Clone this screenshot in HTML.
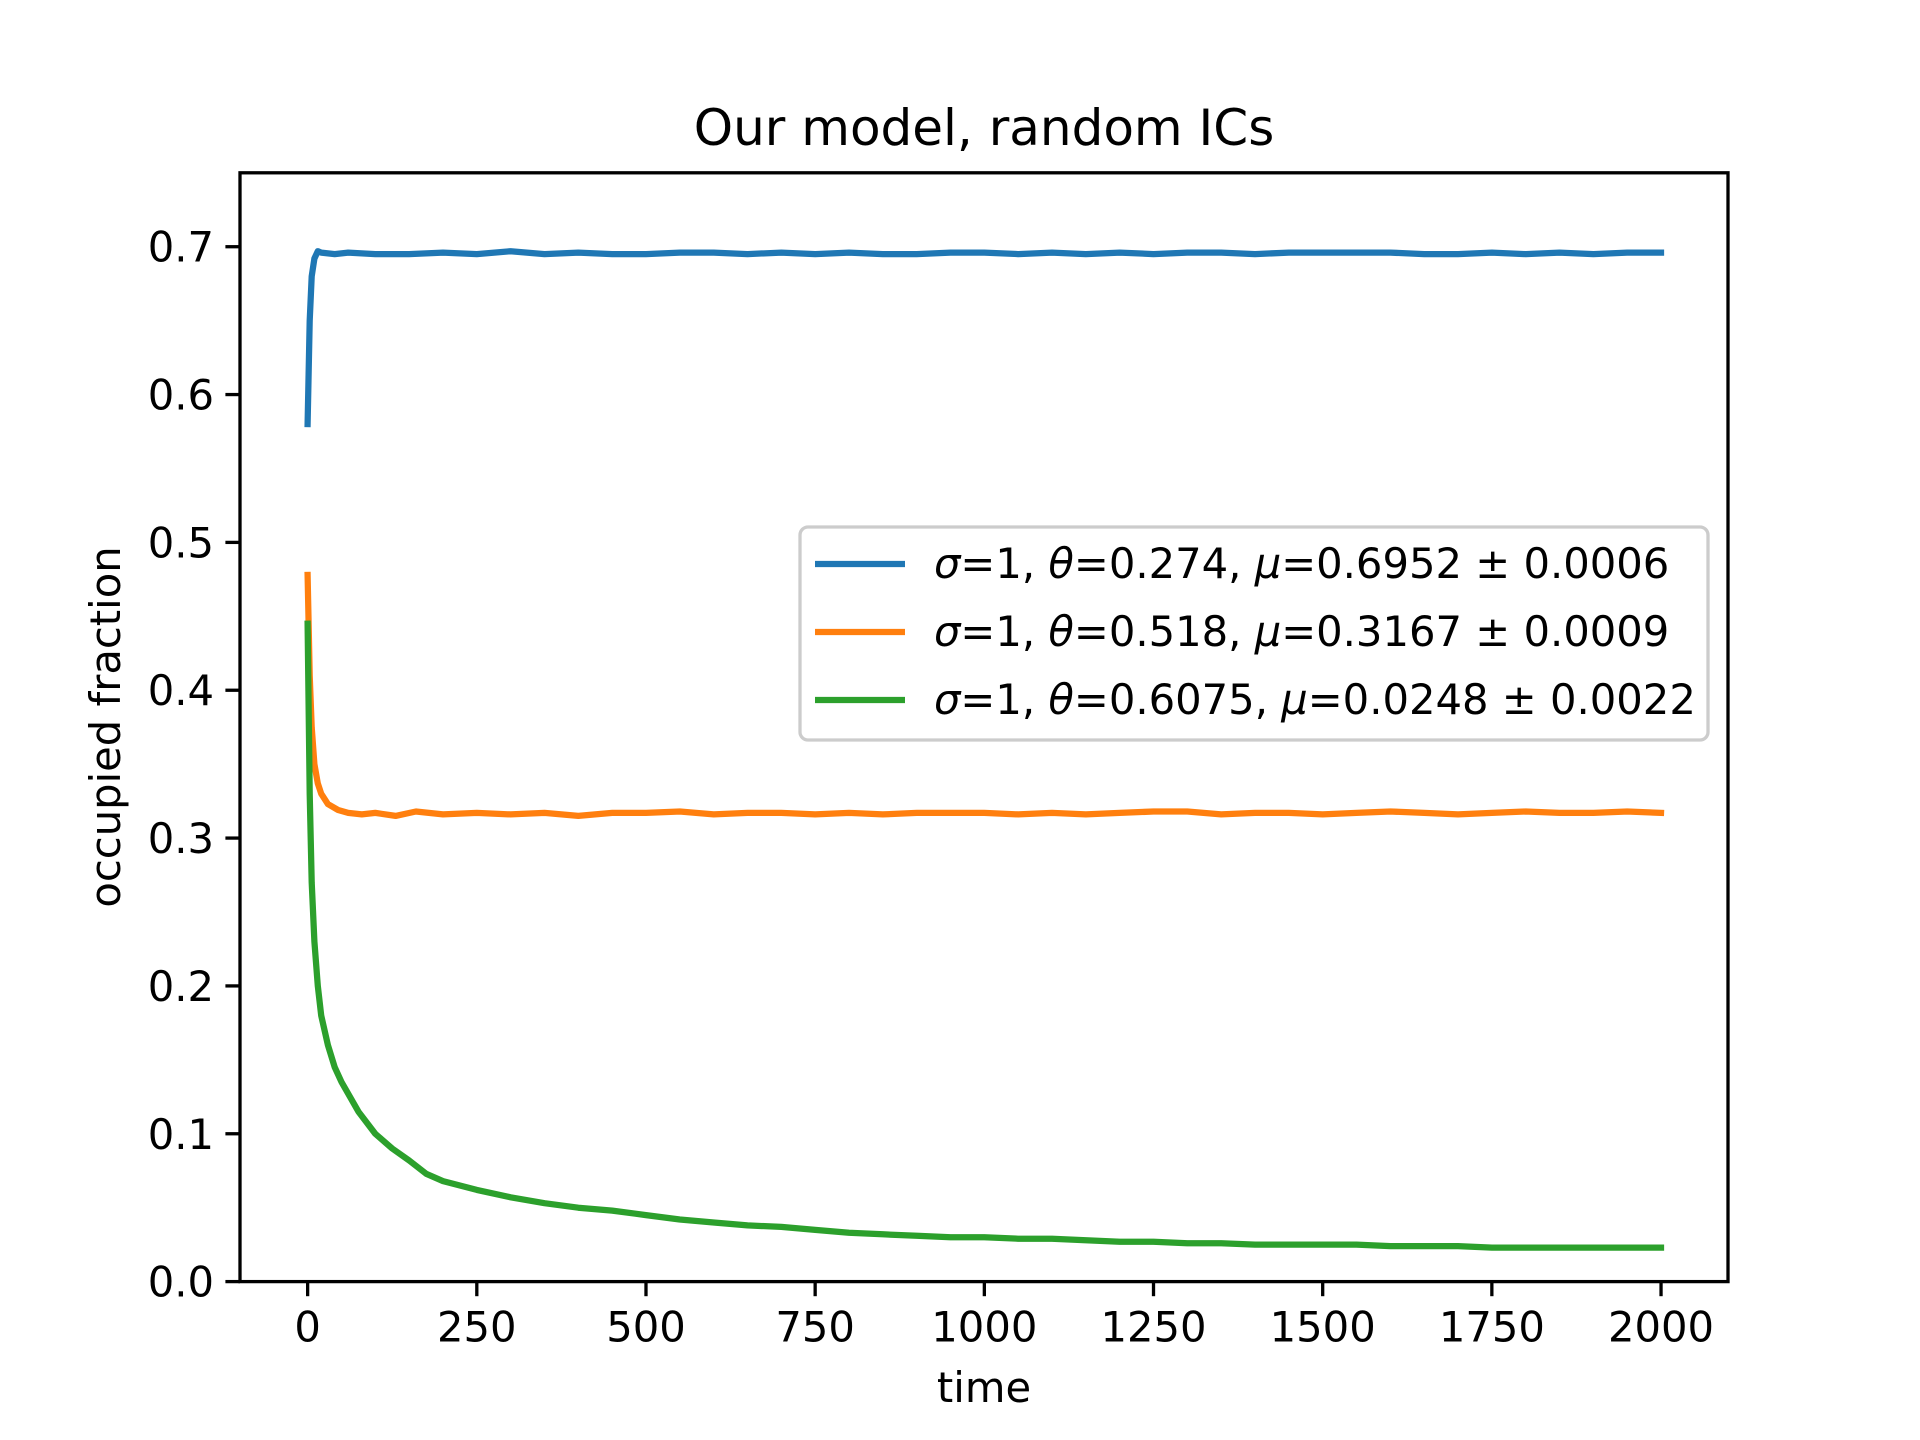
<!DOCTYPE html>
<html><head><meta charset="utf-8"><style>
html,body{margin:0;padding:0;background:#fff;}
svg{display:block;font-family:"DejaVu Sans","Liberation Sans",sans-serif;}
</style></head><body>
<svg id="chart" width="1920" height="1440" viewBox="0 0 1920 1440">
<rect width="1920" height="1440" fill="#fff"/>
<g id="plot"></g>
<text x="984" y="145" font-size="50" text-anchor="middle">Our model, random ICs</text>
<text x="984" y="1402" font-size="41.7" text-anchor="middle">time</text>
<text transform="translate(120,727) rotate(-90)" font-size="41.7" text-anchor="middle">occupied fraction</text>
<g>
<rect x="800" y="527" width="908" height="213" rx="8" fill="#fff" fill-opacity="0.8" stroke="#ccc" stroke-width="3.3"/>
<g><line x1="815" x2="905" y1="564" y2="564" stroke="#1f77b4" stroke-width="6.25"/>
<text x="934" y="578" font-size="41.7"><tspan font-style="italic">σ</tspan>=1, <tspan font-style="italic">θ</tspan>=0.274, <tspan font-style="italic">μ</tspan>=0.6952 ± 0.0006</text></g>
<g><line x1="815" x2="905" y1="632" y2="632" stroke="#ff7f0e" stroke-width="6.25"/>
<text x="934" y="646" font-size="41.7"><tspan font-style="italic">σ</tspan>=1, <tspan font-style="italic">θ</tspan>=0.518, <tspan font-style="italic">μ</tspan>=0.3167 ± 0.0009</text></g>
<g><line x1="815" x2="905" y1="700" y2="700" stroke="#2ca02c" stroke-width="6.25"/>
<text x="934" y="714" font-size="41.7"><tspan font-style="italic">σ</tspan>=1, <tspan font-style="italic">θ</tspan>=0.6075, <tspan font-style="italic">μ</tspan>=0.0248 ± 0.0022</text></g>
</g>
</svg>
<script>
const xTicks=[0,250,500,750,1000,1250,1500,1750,2000];
const yTicks=[0.0,0.1,0.2,0.3,0.4,0.5,0.6,0.7];
const yTickLabels=["0.0","0.1","0.2","0.3","0.4","0.5","0.6","0.7"];
const timesBlue=[0,3,6,10,15,20,40,60,100,150,200,250,300,350,400,450,500,550,600,650,700,750,800,850,900,950,1000,1050,1100,1150,1200,1250,1300,1350,1400,1450,1500,1550,1600,1650,1700,1750,1800,1850,1900,1950,2000];
const blueVals=[0.58,0.65,0.68,0.692,0.697,0.696,0.695,0.696,0.695,0.695,0.696,0.695,0.697,0.695,0.696,0.695,0.695,0.696,0.696,0.695,0.696,0.695,0.696,0.695,0.695,0.696,0.696,0.695,0.696,0.695,0.696,0.695,0.696,0.696,0.695,0.696,0.696,0.696,0.696,0.695,0.695,0.696,0.695,0.696,0.695,0.696,0.696];
const timesOrange=[0,3,6,10,15,20,30,45,60,80,100,130,160,200,250,300,350,400,450,500,550,600,650,700,750,800,850,900,950,1000,1050,1100,1150,1200,1250,1300,1350,1400,1450,1500,1550,1600,1650,1700,1750,1800,1850,1900,1950,2000];
const orangeVals=[0.478,0.41,0.375,0.35,0.337,0.33,0.323,0.319,0.317,0.316,0.317,0.315,0.318,0.316,0.317,0.316,0.317,0.315,0.317,0.317,0.318,0.316,0.317,0.317,0.316,0.317,0.316,0.317,0.317,0.317,0.316,0.317,0.316,0.317,0.318,0.318,0.316,0.317,0.317,0.316,0.317,0.318,0.317,0.316,0.317,0.318,0.317,0.317,0.318,0.317];
const timesGreen=[0,3,6,10,15,20,30,40,50,75,100,125,150,175,200,250,300,350,400,450,500,550,600,650,700,750,800,850,900,950,1000,1050,1100,1150,1200,1250,1300,1350,1400,1450,1500,1550,1600,1650,1700,1750,1800,1850,1900,1950,2000];
const greenVals=[0.445,0.33,0.27,0.23,0.2,0.18,0.16,0.145,0.135,0.115,0.1,0.09,0.082,0.073,0.068,0.062,0.057,0.053,0.05,0.048,0.045,0.042,0.04,0.038,0.037,0.035,0.033,0.032,0.031,0.030,0.030,0.029,0.029,0.028,0.027,0.027,0.026,0.026,0.025,0.025,0.025,0.025,0.024,0.024,0.024,0.023,0.023,0.023,0.023,0.023,0.023];

const L=240,R=1728,T=172.8,B=1281.6,XMIN=-99.95,XMAX=2098.95,YMIN=0,YMAX=0.75;
const xs=v=>L+(v-XMIN)/(XMAX-XMIN)*(R-L);
const ys=v=>B-(v-YMIN)/(YMAX-YMIN)*(B-T);
const NS="http://www.w3.org/2000/svg";
const g=document.getElementById('plot');
function mk(t,a){const e=document.createElementNS(NS,t);for(const k in a)e.setAttribute(k,a[k]);g.appendChild(e);return e;}
function series(ts,vs,color,name){
  const d=ts.map((t,i)=>(i?'L':'M')+xs(t).toFixed(1)+','+ys(vs[i]).toFixed(1)).join('');
  const p=mk('path',{d:d,fill:'none',stroke:color,'stroke-width':6.25,'stroke-linejoin':'round','stroke-linecap':'square'});
  
  
}
series(timesBlue,blueVals,'#1f77b4','series-blue');
series(timesOrange,orangeVals,'#ff7f0e','series-orange');
series(timesGreen,greenVals,'#2ca02c','series-green');
const frame=mk('rect',{x:L,y:T,width:R-L,height:B-T,fill:'none',stroke:'#000','stroke-width':3.3});


xTicks.forEach(v=>{
  const x=xs(v);
  const tk=mk('line',{x1:x,x2:x,y1:B,y2:B+14.6,stroke:'#000','stroke-width':3.3});
  
  
  const t=mk('text',{x:x,y:B+60,'font-size':41.7,'text-anchor':'middle'});
  t.textContent=String(v);
  
  
});
yTicks.forEach((v,i)=>{
  const y=ys(v);
  const tk=mk('line',{x1:L-14.6,x2:L,y1:y,y2:y,stroke:'#000','stroke-width':3.3});
  
  
  const t=mk('text',{x:L-26,y:y+15,'font-size':41.7,'text-anchor':'end'});
  t.textContent=yTickLabels[i];
  
  
});
</script>
</body></html>
